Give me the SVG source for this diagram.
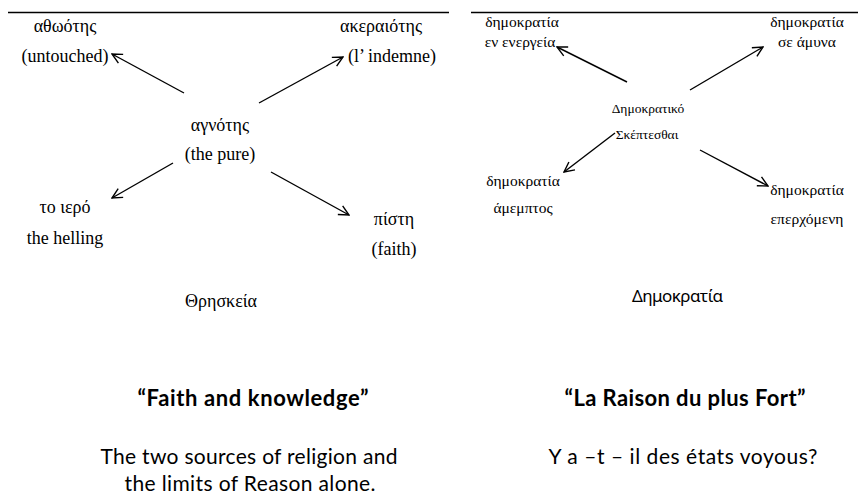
<svg xmlns="http://www.w3.org/2000/svg" width="859" height="496" viewBox="0 0 859 496">
<defs>
<style>
.s{font-family:"Liberation Serif","Times New Roman",serif;fill:#000;text-anchor:middle}
.l{font-size:18px}
.r{font-size:15.5px}
.m{font-size:13.5px}
.c{font-family:Lato,"Noto Sans","Liberation Sans",sans-serif;fill:#000;text-anchor:middle}
.g{font-family:"Noto Sans","Open Sans",sans-serif;fill:#000;text-anchor:middle;font-size:17px}
.t{font-size:22px;font-weight:bold}
.b{font-size:21px}
.edge{stroke:#000;stroke-width:1.4;fill:none;marker-end:url(#ah)}
.rule{stroke:#000;stroke-width:1.3}
</style>
<marker id="ah" markerWidth="12" markerHeight="12" refX="11" refY="6" orient="auto" markerUnits="userSpaceOnUse">
<path d="M1,1 L11,6 L1,11" fill="none" stroke="#000" stroke-width="1.4"/>
</marker>
</defs>
<rect width="859" height="496" fill="#fff"/>
<line class="rule" x1="8" y1="12.5" x2="449" y2="12.5"/>
<line class="rule" x1="471" y1="12.5" x2="858" y2="12.5"/>
<g id="connectors">
<line class="edge" x1="184" y1="93" x2="112" y2="54"/>
<line class="edge" x1="259" y1="103" x2="343" y2="57"/>
<line class="edge" x1="173" y1="163" x2="112" y2="198"/>
<line class="edge" x1="271" y1="172" x2="349" y2="215"/>
<line class="edge" x1="627" y1="82" x2="557" y2="47"/>
<line class="edge" x1="690" y1="90" x2="763" y2="47"/>
<line class="edge" x1="615" y1="133" x2="564" y2="172"/>
<line class="edge" x1="700" y1="150" x2="768" y2="186"/>
</g>
<g id="n-athotis"><text class="s l" x="65" y="32">αθωότης</text><text class="s l" x="65" y="62">(untouched)</text></g>
<g id="n-akeraiotis"><text class="s l" x="381" y="32">ακεραιότης</text><text class="s l" x="392" y="62">(l’ indemne)</text></g>
<g id="n-agnotis"><text class="s l" x="220" y="131">αγνότης</text><text class="s l" x="220" y="160">(the pure)</text></g>
<g id="n-iero"><text class="s l" x="65" y="213">το ιερό</text><text class="s l" x="65" y="244">the helling</text></g>
<g id="n-pisti"><text class="s l" x="394" y="225">πίστη</text><text class="s l" x="394" y="255">(faith)</text></g>
<g id="n-thriskeia"><text class="s l" x="221" y="307">Θρησκεία</text></g>
<g id="n-energeia"><text class="s r" x="522" y="27">δημοκρατία</text><text class="s r" x="520" y="47">εν ενεργεία</text></g>
<g id="n-amyna"><text class="s r" x="807" y="27">δημοκρατία</text><text class="s r" x="807" y="47">σε άμυνα</text></g>
<g id="n-skeptesthai"><text class="s m" x="648" y="113">Δημοκρατικό</text><text class="s m" x="647" y="139">Σκέπτεσθαι</text></g>
<g id="n-amemptos"><text class="s r" x="523" y="186">δημοκρατία</text><text class="s r" x="523" y="213">άμεμπτος</text></g>
<g id="n-eperxomeni"><text class="s r" x="807" y="195">δημοκρατία</text><text class="s r" x="807" y="224">επερχόμενη</text></g>
<g id="n-dimokratia"><text class="g" x="677.5" y="302" textLength="91">Δημοκρατία</text></g>
<g id="caption-left"><text class="c t" x="253" y="406" textLength="231">“Faith and knowledge”</text><text class="c b" x="249" y="464" textLength="297">The two sources of religion and</text><text class="c b" x="250" y="491" textLength="251">the limits of Reason alone.</text></g>
<g id="caption-right"><text class="c t" x="685" y="406" textLength="241">“La Raison du plus Fort”</text><text class="c b" x="683" y="464" textLength="269">Y a –t – il des états voyous?</text></g>
</svg>
